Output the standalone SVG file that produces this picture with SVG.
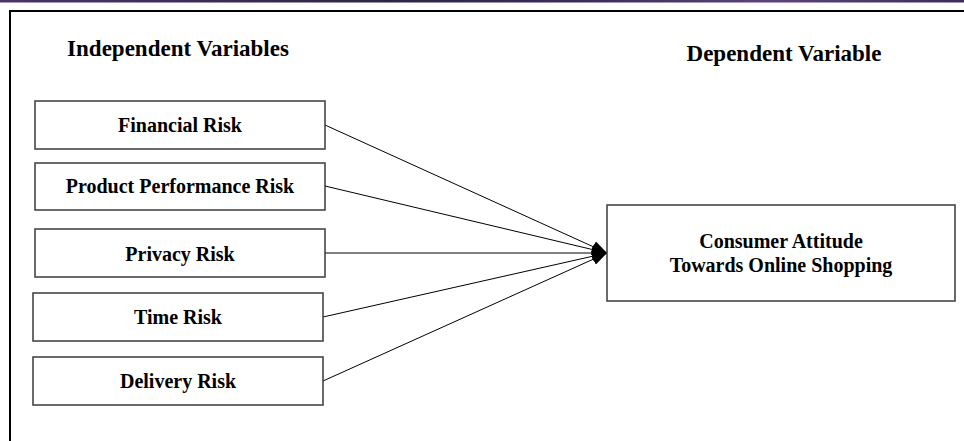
<svg xmlns="http://www.w3.org/2000/svg" width="964" height="441" viewBox="0 0 964 441">
  <style>
    .box { fill: #ffffff; stroke: #3a3a3a; stroke-width: 1.5; }
    .lbl { font-family: "Liberation Serif", "Times New Roman", serif; font-weight: bold; font-size: 20px; fill: #000000; text-anchor: middle; }
    .head { font-family: "Liberation Serif", "Times New Roman", serif; font-weight: bold; font-size: 23px; fill: #000000; text-anchor: middle; }
    .edge { stroke: #000000; stroke-width: 1; fill: none; marker-end: url(#head); }
    .frame { stroke: #000000; stroke-width: 2; fill: none; }
  </style>
  <defs>
    <linearGradient id="band" x1="0" y1="0" x2="1" y2="0">
      <stop offset="0" stop-color="#4a3566"/>
      <stop offset="0.4" stop-color="#2e2448"/>
      <stop offset="0.6" stop-color="#3a2c58"/>
      <stop offset="0.8" stop-color="#5b447c"/>
      <stop offset="1" stop-color="#3c2d5a"/>
    </linearGradient>
    <marker id="head" viewBox="0 0 15 12" refX="15" refY="6" markerWidth="15" markerHeight="12" markerUnits="userSpaceOnUse" orient="auto">
      <path d="M0,0 L15,6 L0,12 Z" fill="#000000"/>
    </marker>
  </defs>

  <rect width="964" height="441" fill="#ffffff"/>
  <rect x="0" y="0" width="964" height="2.5" fill="url(#band)"/>

  <!-- outer frame: top and left rules -->
  <path class="frame" d="M10,441 L10,11 L964,11"/>

  <text class="head" x="178" y="56">Independent Variables</text>
  <text class="head" x="784" y="61">Dependent Variable</text>

  <g id="connectors">
    <line class="edge" x1="325" y1="125" x2="607" y2="253"/>
    <line class="edge" x1="325" y1="186" x2="607" y2="253"/>
    <line class="edge" x1="325" y1="253" x2="607" y2="253"/>
    <line class="edge" x1="323" y1="317" x2="607" y2="253"/>
    <line class="edge" x1="323" y1="381" x2="607" y2="253"/>
  </g>

  <g id="financial">
    <rect class="box" x="35" y="101" width="290" height="48"/>
    <text class="lbl" x="180" y="132">Financial Risk</text>
  </g>
  <g id="product">
    <rect class="box" x="35" y="163" width="290" height="47"/>
    <text class="lbl" x="180" y="193">Product Performance Risk</text>
  </g>
  <g id="privacy">
    <rect class="box" x="35" y="229" width="290" height="48"/>
    <text class="lbl" x="180" y="261">Privacy Risk</text>
  </g>
  <g id="time">
    <rect class="box" x="33" y="293" width="290" height="48"/>
    <text class="lbl" x="178" y="324">Time Risk</text>
  </g>
  <g id="delivery">
    <rect class="box" x="33" y="357" width="290" height="48"/>
    <text class="lbl" x="178" y="388">Delivery Risk</text>
  </g>
  <g id="attitude">
    <rect class="box" x="607" y="205" width="348" height="96"/>
    <text class="lbl" x="781" y="248">Consumer Attitude</text>
    <text class="lbl" x="781" y="272">Towards Online Shopping</text>
  </g>
</svg>
